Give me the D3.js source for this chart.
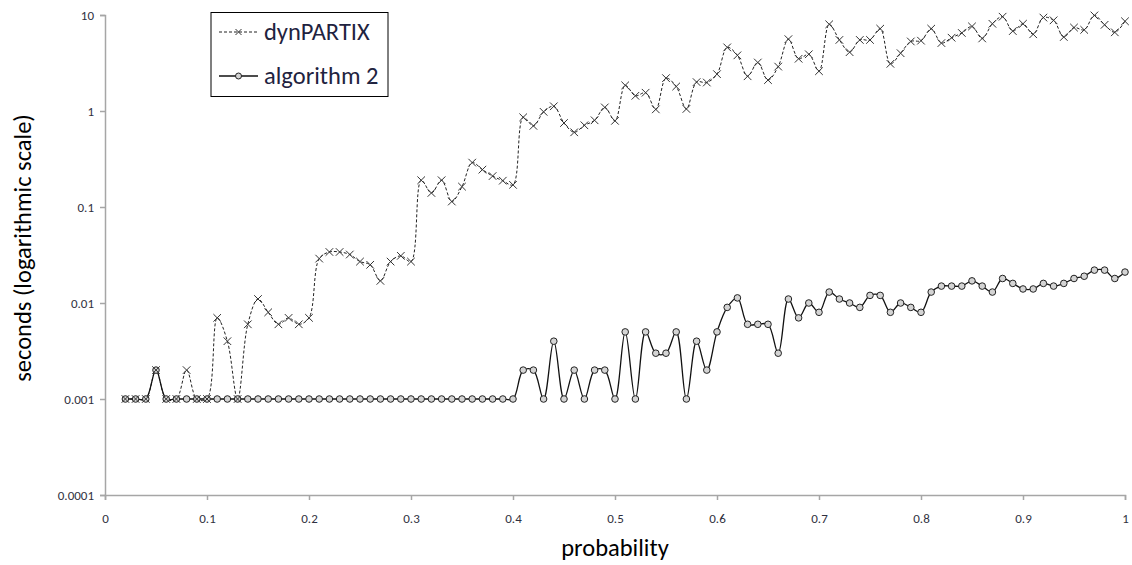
<!DOCTYPE html>
<html>
<head>
<meta charset="utf-8">
<script src="https://cdn.jsdelivr.net/npm/d3@7"></script>
<style>
html,body{margin:0;padding:0;background:#fff;}
svg{display:block;}
text{font-family:Carlito, Lato, "Open Sans", sans-serif;}
</style>
</head>
<body>
<svg id="chart" width="1132" height="565"></svg>
<script>
// ---- data ----
const probability = d3.range(2, 101).map(i => i / 100);
const dynPARTIX = [
  0.001, 0.001, 0.001, 0.002, 0.001, 0.001, 0.002, 0.001, 0.001,      // 0.02-0.10
  0.007, 0.004, 0.001, 0.006, 0.011, 0.008, 0.006, 0.007, 0.006, 0.007,// 0.11-0.20
  0.029, 0.034, 0.034, 0.032, 0.027, 0.025, 0.017, 0.027, 0.031, 0.027,// 0.21-0.30
  0.19, 0.14, 0.19, 0.114, 0.163, 0.29, 0.245, 0.21, 0.188, 0.17,      // 0.31-0.40
  0.86, 0.70, 0.98, 1.12, 0.75, 0.60, 0.71, 0.80, 1.09, 0.79,          // 0.41-0.50
  1.85, 1.44, 1.55, 1.04, 2.2, 1.8, 1.05, 2.0, 1.98, 2.42,             // 0.51-0.60
  4.6, 3.8, 2.3, 3.2, 2.1, 2.9, 5.6, 3.5, 3.9, 2.6,                    // 0.61-0.70
  8.0, 5.5, 4.1, 5.5, 5.5, 7.2, 3.1, 4.0, 5.3, 5.4,                    // 0.71-0.80
  7.2, 5.1, 5.8, 6.5, 7.6, 5.7, 8.1, 9.6, 6.8, 8.1,                    // 0.81-0.90
  6.3, 9.4, 8.8, 5.9, 7.4, 7.0, 9.9, 7.9, 6.6, 8.6                     // 0.91-1.00
];
const algorithm2 = [
  0.001, 0.001, 0.001, 0.002, 0.001, 0.001, 0.001, 0.001, 0.001,      // 0.02-0.10
  0.001, 0.001, 0.001, 0.001, 0.001, 0.001, 0.001, 0.001, 0.001, 0.001,// 0.11-0.20
  0.001, 0.001, 0.001, 0.001, 0.001, 0.001, 0.001, 0.001, 0.001, 0.001,// 0.21-0.30
  0.001, 0.001, 0.001, 0.001, 0.001, 0.001, 0.001, 0.001, 0.001, 0.001,// 0.31-0.40
  0.002, 0.002, 0.001, 0.004, 0.001, 0.002, 0.001, 0.002, 0.002, 0.001,// 0.41-0.50
  0.005, 0.001, 0.005, 0.003, 0.003, 0.005, 0.001, 0.004, 0.002, 0.005,// 0.51-0.60
  0.009, 0.0113, 0.006, 0.006, 0.006, 0.003, 0.011, 0.007, 0.010, 0.008,// 0.61-0.70
  0.013, 0.011, 0.010, 0.009, 0.012, 0.012, 0.008, 0.010, 0.009, 0.008,// 0.71-0.80
  0.013, 0.015, 0.015, 0.015, 0.017, 0.015, 0.013, 0.018, 0.016, 0.014,// 0.81-0.90
  0.014, 0.016, 0.015, 0.016, 0.018, 0.019, 0.022, 0.022, 0.018, 0.021 // 0.91-1.00
];
const xTicks = [0, 0.1, 0.2, 0.3, 0.4, 0.5, 0.6, 0.7, 0.8, 0.9, 1];
const xTickLabels = ["0", "0.1", "0.2", "0.3", "0.4", "0.5", "0.6", "0.7", "0.8", "0.9", "1"];
const yTicks = [0.0001, 0.001, 0.01, 0.1, 1, 10];
const yTickLabels = ["0.0001", "0.001", "0.01", "0.1", "1", "10"];
const seriesNames = ["dynPARTIX", "algorithm 2"];

// ---- layout ----
const L = 105, R = 1125, T = 15, B = 495;
const svg = d3.select("#chart");
const x = d3.scaleLinear().domain([0, 1]).range([L, R]);
const y = d3.scaleLog().domain([0.0001, 10]).range([B, T]);
const axisColor = "#a6a6a6";
const textColor = "#2f3040";

// axes
const gx = svg.append("g").attr("transform", `translate(0,${B})`)
  .call(d3.axisBottom(x).tickValues(xTicks).tickFormat((d, i) => xTickLabels[i]).tickSize(5).tickPadding(14));
const gy = svg.append("g").attr("transform", `translate(${L},0)`)
  .call(d3.axisLeft(y).tickValues(yTicks).tickFormat((d, i) => yTickLabels[i]).tickSize(5).tickPadding(6));
[gx, gy].forEach(g => {
  g.selectAll("path.domain").attr("stroke", axisColor).attr("stroke-width", 1.5);
  g.selectAll(".tick line").attr("stroke", axisColor).attr("stroke-width", 1.5);
  g.selectAll(".tick text").attr("fill", textColor).style("font-size", "13px")
   .style("font-family", "Carlito, Lato, sans-serif");
});

// axis titles
svg.append("text").attr("x", (L + R) / 2).attr("y", 556).attr("text-anchor", "middle")
  .attr("fill", "#000").style("font-size", "24.5px").text("probability");
svg.append("text").attr("transform", `translate(31,248) rotate(-90)`)
  .attr("text-anchor", "middle").attr("fill", "#000").style("font-size", "24.5px")
  .text("seconds (logarithmic scale)");

// lines
const curve = d3.curveCatmullRom.alpha(0.5);
const line = d3.line().x(d => x(d[0])).y(d => y(d[1])).curve(curve);
const dynData = probability.map((p, i) => [p, dynPARTIX[i]]);
const algData = probability.map((p, i) => [p, algorithm2[i]]);

svg.append("path").datum(dynData).attr("d", line).attr("fill", "none")
  .attr("stroke", "#222").attr("stroke-width", 1).attr("stroke-dasharray", "3,2");
svg.append("path").datum(algData).attr("d", line).attr("fill", "none")
  .attr("stroke", "#111").attr("stroke-width", 1.3);

// circle markers
svg.append("g").selectAll("circle").data(algData).join("circle")
  .attr("cx", d => x(d[0])).attr("cy", d => y(d[1])).attr("r", 3.3)
  .attr("fill", "#d4d4d4").attr("stroke", "#222").attr("stroke-width", 1);

// cross markers
const cs = 3.8;
svg.append("g").selectAll("path").data(dynData).join("path")
  .attr("d", d => {
    const cx = x(d[0]), cy = y(d[1]);
    return `M${cx - cs},${cy - cs}L${cx + cs},${cy + cs}M${cx - cs},${cy + cs}L${cx + cs},${cy - cs}`;
  })
  .attr("stroke", "#333").attr("stroke-width", 1).attr("fill", "none");

// legend
const lg = svg.append("g");
lg.append("rect").attr("x", 211).attr("y", 12.5).attr("width", 177).attr("height", 84)
  .attr("fill", "#fff").attr("stroke", "#000").attr("stroke-width", 1);
const legendY = [32, 76];
// dynPARTIX sample
lg.append("line").attr("x1", 219).attr("x2", 258).attr("y1", legendY[0]).attr("y2", legendY[0])
  .attr("stroke", "#222").attr("stroke-width", 1).attr("stroke-dasharray", "3,2");
lg.append("path").attr("d", `M${238.5 - 3},${legendY[0] - 3}L${238.5 + 3},${legendY[0] + 3}M${238.5 - 3},${legendY[0] + 3}L${238.5 + 3},${legendY[0] - 3}`)
  .attr("stroke", "#333").attr("stroke-width", 1);
// algorithm 2 sample
lg.append("line").attr("x1", 219).attr("x2", 258).attr("y1", legendY[1]).attr("y2", legendY[1])
  .attr("stroke", "#111").attr("stroke-width", 1.3);
lg.append("circle").attr("cx", 238.5).attr("cy", legendY[1]).attr("r", 3)
  .attr("fill", "#d4d4d4").attr("stroke", "#222").attr("stroke-width", 1);
seriesNames.forEach((n, i) => {
  lg.append("text").attr("x", 264).attr("y", legendY[i] + 8).attr("fill", "#1f2340")
    .style("font-size", "24.5px").text(n);
});
</script>
</body>
</html>
